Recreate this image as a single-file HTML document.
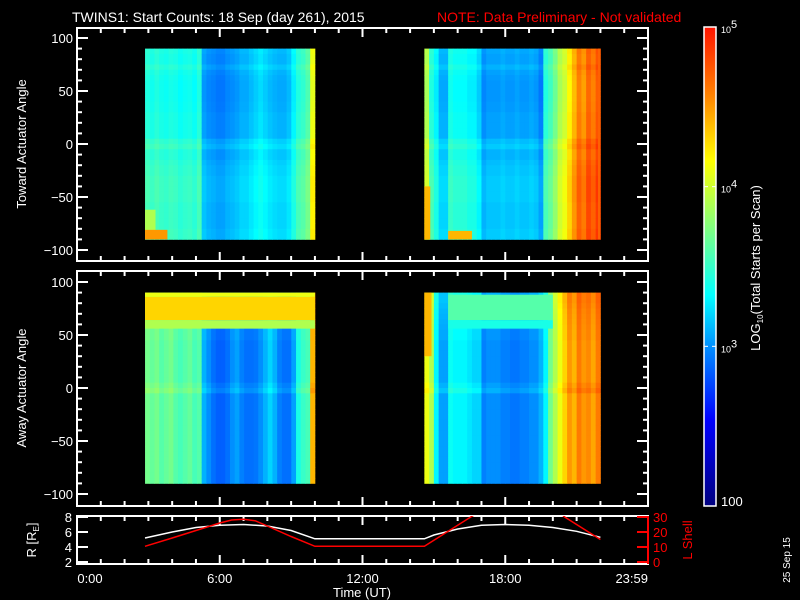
<!DOCTYPE html>
<html><head><meta charset="utf-8"><style>
html,body{margin:0;padding:0;background:#000;}
svg{display:block;font-family:"Liberation Sans",sans-serif;}
</style></head><body>
<svg id="c" width="800" height="600" viewBox="0 0 800 600" xmlns="http://www.w3.org/2000/svg">
<rect width="800" height="600" fill="#000"/>
<text x="72" y="22" fill="#fff" font-size="14">TWINS1: Start Counts: 18 Sep (day 261), 2015</text>
<text x="437" y="22" fill="#ff0000" font-size="14">NOTE: Data Preliminary - Not validated</text>
<text transform="translate(26,144) rotate(-90)" text-anchor="middle" fill="#fff" font-size="13">Toward Actuator Angle</text>
<text transform="translate(26,388) rotate(-90)" text-anchor="middle" fill="#fff" font-size="13">Away Actuator Angle</text>
<text transform="translate(760,268) rotate(-90)" text-anchor="middle" fill="#fff" font-size="13">LOG<tspan font-size="8" dy="3">10</tspan><tspan dy="-3">(Total Starts per Scan)</tspan></text>
<text transform="translate(36,540) rotate(-90)" text-anchor="middle" fill="#fff" font-size="13">R [R<tspan font-size="8" dy="3">E</tspan><tspan dy="-3">]</tspan></text>
<text transform="translate(692,540) rotate(-90)" text-anchor="middle" fill="#ff0000" font-size="13">L Shell</text>
<text x="362" y="597" text-anchor="middle" fill="#fff" font-size="13">Time (UT)</text>
<text transform="translate(790,560) rotate(-90)" text-anchor="middle" fill="#fff" font-size="10">25 Sep 15</text>
</svg>
<script>
// ---------- data ----------
var hourTicks = [0,1,2,3,4,5,6,7,8,9,10,11,12,13,14,15,16,17,18,19,20,21,22,23,24];
var timeLabels = ["0:00","6:00","12:00","18:00","23:59"];
var timeLabelHours = [0,6,12,18,24];
var angleTicks = [100,50,0,-50,-100];
var cbTickLabels = ["100","10","10","10"];
var block1 = [2.86, 10.0];
var block2 = [14.6, 22.0];
var topCols1 = [3.45,3.4,3.45,3.4,3.38,3.42,3.4,3.35,3.38,3.4,3.35,3.45,3.05,3.0,2.98,2.95,2.95,3.0,3.02,3.05,3.1,3.1,3.15,3.2,3.25,3.2,3.15,3.12,3.1,3.1,3.15,3.3,3.45,3.5,3.6,4.1];
var topCols2 = [3.9,3.45,3.3,3.1,3.1,3.4,3.35,3.35,3.35,3.3,3.3,3.2,3.0,3.05,3.05,3.05,3.08,3.05,3.05,3.08,3.05,3.05,3.08,3.05,2.95,3.45,3.55,3.7,3.9,4.0,4.2,4.4,4.6,4.5,4.7,4.6,4.75];
var topRows = [0.02,0,0,0.05,0,-0.02,-0.03,-0.03,-0.03,-0.03,-0.02,-0.02,0,0,0,0,0,0.08,0.12,0.05,0.05,0.08,0.1,0.1,0.12,0.12,0.12,0.12,0.12,0.1,0.1,0.1,0.1,0.1,0.12,0.12];
var botCols1 = [3.7,3.65,3.7,3.6,3.65,3.7,3.6,3.55,3.6,3.65,3.55,3.6,3.1,3.0,2.9,2.85,2.85,2.9,3.0,3.05,2.95,2.9,2.9,2.92,3.0,3.1,3.2,3.1,2.95,2.9,2.9,3.05,3.4,3.5,3.55,4.4];
var botCols2 = [4.1,3.9,3.3,3.05,3.05,3.35,3.3,3.3,3.3,3.25,3.2,3.2,2.95,3.0,3.0,3.0,2.95,2.95,2.92,2.92,2.95,2.95,3.0,3.0,3.1,3.3,3.7,3.9,4.1,4.3,4.5,4.4,4.6,4.5,4.55,4.45,4.6];
var botRows = [0.1,0.1,0.08,0.06,0.05,0.04,0.03,0.02,0.02,0,0,0,0,0,0,0,0,0.05,0.1,0,0,0,0,0,0,0,0,0,0,0,0,0,0,0,0,0];
var topPatches = [[2.86,3.3,-90,-62,3.9],[2.86,3.8,-90,-81,4.5],[14.6,14.85,-90,-40,4.4],[15.6,16.6,-90,-82,4.4],[21.9,22.0,-90,90,4.7]];
var botPatches = [[2.86,10.0,64,86,4.3],[2.86,10.0,56,64,3.9],[2.86,10.0,86,90,4.1],[14.6,14.9,30,90,4.4],[15.6,20.0,64,88,3.6],[15.6,20.0,56,64,3.4]];
var rTimes = [2.86,4,5,6,7,8,9,10,14.6,15,16,17,18,19,20,21,22];
var rVals  = [5.2,6.0,6.6,6.9,7.0,6.8,6.2,5.1,5.1,5.6,6.4,6.9,7.0,6.9,6.6,6.1,5.3];
var lTimesA = [2.86,4,5,6,6.5,7,7.5,8,9,10,14.6,16.6,17.0];
var lValsA  = [10.5,16,21,26,28,28.5,27.5,24,17,10.5,10.5,30.5,34];
var lTimesB = [20.2,20.5,22];
var lValsB  = [34,30,15];
var rTicks = [2,4,6,8];
var lTicks = [0,10,20,30];

var NS='http://www.w3.org/2000/svg';
var svg=document.getElementById('c');
var X0=77,X1=648;
function xT(h){return X0+(X1-X0)*h/24;}
function yTop(a){return 144-1.06*a;}
function yBot(a){return 388-1.06*a;}
function yR(r){return 562-7.5*(r-2);}
function yL(l){return 562-1.5*l;}
function mk(tag,attrs,parent){var e=document.createElementNS(NS,tag);for(var k in attrs)e.setAttribute(k,attrs[k]);(parent||svg).appendChild(e);return e;}
var stops=[[0,[0,0,128]],[0.18,[0,0,255]],[0.33,[0,140,255]],[0.44,[0,255,255]],[0.58,[128,255,128]],[0.72,[255,255,0]],[0.86,[255,128,0]],[1,[255,20,0]]];
function cmap(v){var f=(v-2)/3;f=Math.max(0,Math.min(1,f));for(var i=1;i<stops.length;i++){if(f<=stops[i][0]){var a=stops[i-1],b=stops[i];var t=(f-a[0])/(b[0]-a[0]);var c=[0,1,2].map(function(j){return Math.round(a[1][j]+(b[1][j]-a[1][j])*t);});return 'rgb('+c.join(',')+')';}}return 'rgb(255,20,0)';}

function drawBlock(g,blk,cols,rows,yf,name){
  var n=cols.length,m=rows.length,dt=(blk[1]-blk[0])/n,da=180/m;
  for(var i=0;i<n;i++){for(var j=0;j<m;j++){
    var a0=90-j*da;
    var x=xT(blk[0]+i*dt),w=xT(blk[0]+(i+1)*dt)-x;
    var y=yf(a0),h=yf(a0-da)-y;
    var r=mk('rect',{x:x.toFixed(2),y:y.toFixed(2),width:(w+0.4).toFixed(2),height:(h+0.4).toFixed(2),fill:cmap(cols[i]+rows[j])},g);
    
    
  }}
}
function drawPatches(g,list,yf,name){
  list.forEach(function(p){
    var r=mk('rect',{x:xT(p[0]),y:yf(p[3]),width:xT(p[1])-xT(p[0]),height:yf(p[2])-yf(p[3]),fill:cmap(p[4])},g);
    
    
  });
}
var gT=mk('g',{});


drawBlock(gT,block1,topCols1,topRows,yTop,'toward');
drawBlock(gT,block2,topCols2,topRows,yTop,'toward');
drawPatches(gT,topPatches,yTop,'toward-hot-patch');
var gB=mk('g',{});


drawBlock(gB,block1,botCols1,botRows,yBot,'away');
drawBlock(gB,block2,botCols2,botRows,yBot,'away');
drawPatches(gB,botPatches,yBot,'away-hot-patch');

function frame(y0,y1,name){
  var r=mk('rect',{x:X0,y:y0,width:X1-X0,height:y1-y0,fill:'none',stroke:'#fff','stroke-width':2});
  
  
  hourTicks.forEach(function(h){
    var L=(h%6===0)?9:5,x=xT(h);
    mk('line',{x1:x,y1:y0,x2:x,y2:y0+L,stroke:'#fff','stroke-width':2});
    mk('line',{x1:x,y1:y1,x2:x,y2:y1-L,stroke:'#fff','stroke-width':2});
  });
}
function angleAxis(y0,y1,yf,name){
  frame(y0,y1,name+'-frame');
  for(var a=-100;a<=100;a+=10){
    var L=(a%50===0)?11:5,y=yf(a);
    mk('line',{x1:X0,y1:y,x2:X0+L,y2:y,stroke:'#fff','stroke-width':2});
    mk('line',{x1:X1,y1:y,x2:X1-L,y2:y,stroke:'#fff','stroke-width':2});
  }
  angleTicks.forEach(function(a){
    var t=mk('text',{x:73,y:yf(a)+5,'text-anchor':'end',fill:'#fff','font-size':13});
    t.textContent=String(a).replace('-','\u2212');
    
    
  });
}
angleAxis(28,261,yTop,'toward');
angleAxis(271,506,yBot,'away');

frame(516,564,'orbit-frame');
mk('line',{x1:X1,y1:516,x2:X1,y2:564,stroke:'#ff0000','stroke-width':2});
rTicks.forEach(function(r){
  var y=yR(r);
  mk('line',{x1:X0,y1:y,x2:X0+11,y2:y,stroke:'#fff','stroke-width':2});
  var t=mk('text',{x:72,y:y+5,'text-anchor':'end',fill:'#fff','font-size':13});
  t.textContent=r;
  
  
});
lTicks.forEach(function(l){
  var y=yL(l);
  mk('line',{x1:X1,y1:y,x2:X1-11,y2:y,stroke:'#ff0000','stroke-width':2});
  var t=mk('text',{x:653,y:y+5,fill:'#ff0000','font-size':13});
  t.textContent=l;
  
  
});
var defs=mk('defs',{});
var cp=mk('clipPath',{id:'orb'},defs);
mk('rect',{x:X0,y:516,width:X1-X0,height:48},cp);
function pl(ts,vs,yf,col,name){
  var p=ts.map(function(t,i){return xT(t).toFixed(1)+','+yf(vs[i]).toFixed(1);}).join(' ');
  var e=mk('polyline',{points:p,fill:'none',stroke:col,'stroke-width':1.5,'clip-path':'url(#orb)'});
  
  
}
pl(rTimes,rVals,yR,'#fff','r-distance-line');
pl(lTimesA,lValsA,yL,'#ff0000','lshell-line-a');
pl(lTimesB,lValsB,yL,'#ff0000','lshell-line-b');
timeLabels.forEach(function(s,i){
  var h=timeLabelHours[i],x=xT(h),anc='middle';
  if(h===0){x=X0+13;} if(h===24){x=X1;anc='end';}
  var t=mk('text',{x:x,y:583,'text-anchor':anc,fill:'#fff','font-size':13});
  t.textContent=s;
  
  
});

var CB0=27,CB1=506;
var gr=mk('linearGradient',{id:'cbg',x1:0,y1:1,x2:0,y2:0},defs);
stops.forEach(function(s){mk('stop',{offset:s[0],'stop-color':'rgb('+s[1].join(',')+')'},gr);});
var cb=mk('rect',{x:704,y:CB0,width:12,height:CB1-CB0,fill:'url(#cbg)',stroke:'#fff','stroke-width':1.5});


function yCB(lv){return CB1-(CB1-CB0)*(lv-2)/3;}
[2,3,4,5].forEach(function(lv,i){
  var y=yCB(lv);
  if(lv===3||lv===4){mk('line',{x1:704,y1:y,x2:708,y2:y,stroke:'#fff','stroke-width':1});mk('line',{x1:712,y1:y,x2:716,y2:y,stroke:'#fff','stroke-width':1});}
  var t=mk('text',{x:721,y:(lv===2?y:y+6),fill:'#fff','font-size':lv===2?13:9});
  t.textContent=cbTickLabels[i];
  if(lv>2){var s=mk('tspan',{dy:-5,'font-size':11},t);s.textContent=String(lv);}
  
  
});
</script>
</body></html>
